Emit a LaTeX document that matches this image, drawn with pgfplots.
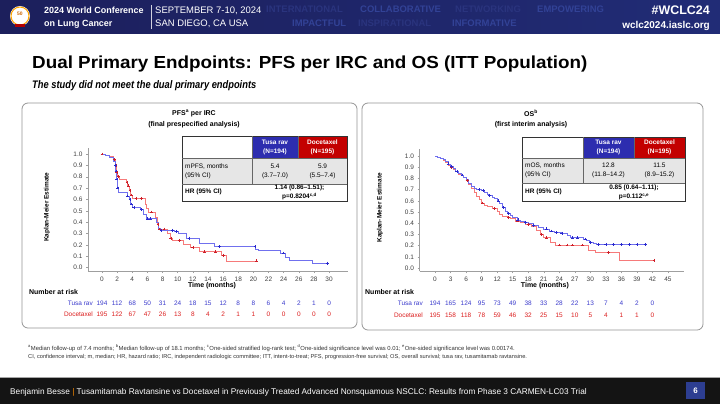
\documentclass[border=0pt]{standalone}
\usepackage{pgfplots}
\pgfplotsset{compat=1.18}
\usepackage{fontspec}
\setmainfont{Liberation Sans}

\definecolor{navyA}{RGB}{28,31,92}
\definecolor{navyB}{RGB}{33,44,118}
\definecolor{faintA}{RGB}{42,52,126}
\definecolor{faintB}{RGB}{50,66,150}
\definecolor{tusaline}{RGB}{112,112,238}
\definecolor{tusamark}{RGB}{40,40,205}
\definecolor{docline}{RGB}{246,122,122}
\definecolor{docmark}{RGB}{205,30,40}
\definecolor{tusatext}{RGB}{60,60,205}
\definecolor{doctext}{RGB}{220,30,30}
\definecolor{tusahead}{RGB}{45,45,175}
\definecolor{dochead}{RGB}{195,0,0}
\definecolor{rowgray}{RGB}{230,230,230}
\definecolor{panelgray}{RGB}{150,150,150}
\definecolor{pagebox}{RGB}{45,62,145}

\newcommand{\fs}[1]{\fontsize{#1}{#1}\selectfont}

\tikzset{
  tab/.style={font=\fontsize{6.5}{9}\selectfont, inner sep=0, align=center},
  tabb/.style={font=\fontsize{6.5}{9}\selectfont\bfseries, inner sep=0, align=center},
  faint/.style={anchor=base west, inner sep=0, font=\fs{9.5}\bfseries},
}

\pgfplotsset{
  kmaxis/.style={
    scale only axis,
    axis lines*=left,
    axis line style={gray!75, line width=0.5pt, -},
    tick align=outside,
    major tick length=2bp,
    tick style={gray!75, line width=0.4pt},
    ymin=-0.03,
    ytick={0,0.1,0.2,0.3,0.4,0.5,0.6,0.7,0.8,0.9,1.0},
    /pgf/number format/assume math mode=true,
    y tick label style={/pgf/number format/.cd, fixed, fixed zerofill, precision=1},
    ticklabel style={font=\fs{6.5}, text=black!75},
    xlabel style={font=\fs{7}\bfseries, at={(axis description cs:0.477,-0.115)}, anchor=center},
    ylabel style={font=\fs{6.5}\bfseries, at={(axis description cs:-0.158,0.52)}, anchor=center, rotate=0},
    xlabel={Time (months)},
    ylabel={Kaplan-Meier Estimate},
    clip=false,
  },
  tusa/.style={const plot, color=tusaline, line width=0.6pt},
  doce/.style={const plot, color=docline, line width=0.6pt},
  tusacens/.style={only marks, mark=+, mark size=1.4bp, color=tusamark, mark options={line width=0.5pt}},
  docecens/.style={only marks, mark=+, mark size=1.4bp, color=docmark, mark options={line width=0.5pt}},
}

\begin{document}
\begin{tikzpicture}[x=1bp,y=1bp]
\useasboundingbox (0,0) rectangle (720,404);
% page
\fill[white] (0,0) rectangle (720,404);

% ---- banner ----
\shade[left color=navyA, right color=navyB] (0,370) rectangle (720,404);
\node[faint, text=faintA] at (266,391) {INTERNATIONAL};
\node[faint, text=faintB] at (360,391) {COLLABORATIVE};
\node[faint, text=faintA] at (455,391) {NETWORKING};
\node[faint, text=faintB] at (537,391) {EMPOWERING};
\node[faint, text=faintB] at (292,378) {IMPACTFUL};
\node[faint, text=faintA] at (358,378) {INSPIRATIONAL};
\node[faint, text=faintB] at (452,378) {INFORMATIVE};
\fill[white] (20,388) circle (10);
\draw[orange!70!yellow, line width=1pt] (20,388) circle (9);
\node[text=orange!80!black] at (20,390) {\fs{5}\bfseries 50};
\fill[red!70!black] (15,377) rectangle (25,380);
\node[anchor=base west, inner sep=0, text=white] at (44,390) {\fs{9}\bfseries 2024 World Conference};
\node[anchor=base west, inner sep=0, text=white] at (44,378) {\fs{9}\bfseries on Lung Cancer};
\draw[white!80!navyA, line width=0.5pt] (151,375) -- (151,399);
\node[anchor=base west, inner sep=0, text=white] at (155,390) {\fs{9.5}SEPTEMBER 7-10, 2024};
\node[anchor=base west, inner sep=0, text=white] at (155,378) {\fs{9.5}SAN DIEGO, CA USA};
\node[anchor=base east, inner sep=0, text=white] at (710,389) {\fs{12.5}\bfseries \#WCLC24};
\node[anchor=base east, inner sep=0, text=white] at (710,376) {\fs{10}\bfseries wclc2024.iaslc.org};

% ---- title ----
\node[anchor=base west, inner sep=0] at (32,336) {\scalebox{1.08}[1]{\fs{17.5}\bfseries Dual Primary Endpoints: PFS per IRC and OS (ITT Population)}};
\node[anchor=base west, inner sep=0] at (32,316) {\scalebox{0.85}[1]{\fs{11}\bfseries\itshape The study did not meet the dual primary endpoints}};

% ---- panels ----
\draw[panelgray, line width=0.8pt, rounded corners=6] (22,76) rectangle (357,301);
\draw[panelgray, line width=0.8pt, rounded corners=6] (362,74) rectangle (703,301);

\node[inner sep=0] at (194,291) {\fs{7}\bfseries PFS\textsuperscript{a} per IRC};
\node[inner sep=0] at (194,279) {\fs{7}\bfseries (final prespecified analysis)};
\node[inner sep=0] at (531,291) {\fs{7}\bfseries OS\textsuperscript{b}};
\node[inner sep=0] at (531,279) {\fs{7}\bfseries (first interim analysis)};

% ---- PFS plot ----
\begin{axis}[kmaxis, at={(88bp,132.9bp)}, anchor=south west,
  width=260bp, height=122.8bp,
  xmin=-1.85, xmax=32.5, ymax=1.05,
  xtick={0,2,4,6,8,10,12,14,16,18,20,22,24,26,28,30}]
\addplot[doce] coordinates {(0,1.0) (0.5,0.99) (1.0,0.98) (1.5,0.95) (1.8,0.90) (1.9,0.84) (2.0,0.80) (2.3,0.78) (3.2,0.75) (3.4,0.72) (3.6,0.68) (3.8,0.64) (4.0,0.61) (5.7,0.56) (5.9,0.52) (6.1,0.49) (7.0,0.44) (7.3,0.38) (7.5,0.34) (8.6,0.30) (9.0,0.26) (9.3,0.24) (10.7,0.21) (11.6,0.18) (12.9,0.14) (15.7,0.11) (16.4,0.06) (20.4,0.06)};
\addplot[tusa] coordinates {(0,1.0) (0.5,0.99) (1.0,0.97) (1.5,0.94) (1.7,0.90) (1.8,0.85) (1.9,0.78) (2.0,0.70) (2.2,0.66) (3.3,0.63) (3.6,0.60) (3.8,0.56) (4.0,0.53) (5.0,0.51) (5.5,0.47) (5.9,0.43) (7.2,0.40) (7.4,0.35) (7.7,0.33) (9.6,0.32) (10.1,0.30) (11.2,0.26) (12.9,0.215) (14.8,0.185) (20.2,0.165) (20.6,0.15) (23.5,0.13) (24.2,0.09) (24.8,0.065) (27.8,0.04) (29.8,0.04)};
\addplot[docecens] coordinates {(0,1.0) (1.6,0.95) (1.85,0.90) (1.95,0.84) (2.1,0.80) (2.2,0.80) (3.3,0.75) (3.5,0.72) (3.7,0.68) (3.9,0.64) (4.5,0.61) (5.2,0.61) (6.5,0.49) (7.4,0.38) (7.6,0.34) (8.2,0.34) (9.1,0.26) (10.2,0.24) (12.0,0.18) (13.5,0.14) (15.0,0.14) (16.0,0.11) (20.4,0.06)};
\addplot[tusacens] coordinates {(1.75,0.90) (1.85,0.85) (1.95,0.78) (2.05,0.70) (2.1,0.70) (3.4,0.63) (3.7,0.60) (3.9,0.56) (4.2,0.53) (5.2,0.51) (6.0,0.43) (6.4,0.43) (7.8,0.33) (9.3,0.33) (9.8,0.32) (11.5,0.26) (15.5,0.185) (20.2,0.185) (24.0,0.13) (29.8,0.04)};
\end{axis}

% ---- OS plot ----
\begin{axis}[kmaxis, at={(419.5bp,132.6bp)}, anchor=south west,
  width=264bp, height=122.1bp,
  xmin=-3, xmax=48, ymax=1.06,
  xlabel style={at={(axis description cs:0.475,-0.115)}},
  ylabel style={at={(axis description cs:-0.15,0.52)}},
  xtick={0,3,6,9,12,15,18,21,24,27,30,33,36,39,42,45}]
\addplot[doce] coordinates {(0,1.0) (0.5,0.99) (1,0.98) (1.5,0.96) (2,0.94) (2.5,0.92) (3,0.90) (3.5,0.88) (4,0.86) (4.5,0.84) (5,0.83) (5.5,0.81) (6,0.78) (6.5,0.75) (7,0.71) (7.5,0.68) (8,0.64) (8.5,0.61) (9,0.58) (9.5,0.56) (10,0.55) (11,0.53) (12,0.51) (12.5,0.48) (13,0.46) (14,0.45) (14.5,0.44) (15.5,0.42) (16.5,0.41) (17.5,0.39) (18.5,0.37) (19.5,0.34) (20.3,0.30) (21,0.27) (22.2,0.23) (23.2,0.205) (29.6,0.16) (30.9,0.137) (35.6,0.069) (42.3,0.069)};
\addplot[tusa] coordinates {(0,1.0) (0.5,0.99) (1,0.98) (1.5,0.97) (2,0.95) (2.5,0.93) (3,0.91) (3.5,0.89) (4,0.86) (4.5,0.85) (5,0.83) (5.5,0.81) (6,0.79) (6.5,0.76) (7,0.73) (7.5,0.71) (8,0.70) (9,0.69) (9.5,0.68) (10,0.66) (10.5,0.65) (11,0.63) (11.5,0.62) (12,0.60) (12.5,0.58) (13,0.54) (13.5,0.51) (14,0.49) (14.5,0.47) (15,0.45) (15.8,0.43) (16.5,0.42) (17.2,0.41) (18,0.40) (19,0.38) (20,0.36) (21,0.35) (22,0.33) (23,0.32) (24.5,0.31) (25.5,0.29) (26.2,0.27) (28.6,0.26) (29.3,0.25) (29.8,0.23) (30.5,0.22) (31.2,0.21) (40.7,0.21)};
\addplot[docecens] coordinates {(3.2,0.90) (4.2,0.86) (6.2,0.78) (9.2,0.58) (11.5,0.53) (14.2,0.45) (16,0.42) (18,0.39) (20.5,0.30) (21.5,0.27) (24,0.205) (25.5,0.205) (26.5,0.205) (28.5,0.205) (33.5,0.137) (42.3,0.069)};
\addplot[tusacens] coordinates {(2.5,0.93) (3.2,0.91) (4.2,0.86) (5.2,0.83) (8.5,0.70) (9.3,0.69) (10.5,0.65) (12.2,0.60) (13.2,0.54) (14.2,0.49) (16.0,0.43) (17.5,0.41) (19.0,0.38) (21.5,0.35) (22.5,0.33) (23.5,0.32) (24.5,0.31) (26.5,0.27) (27.5,0.27) (29.0,0.26) (30.0,0.23) (31.5,0.21) (33,0.21) (34.5,0.21) (36,0.21) (37.5,0.21) (39,0.21) (40.7,0.21)};
\end{axis}

% ---- tables ----
% left
\fill[rowgray] (182,220) rectangle (347,246);
\fill[tusahead] (252,246) rectangle (298,268);
\fill[dochead] (298,246) rectangle (347,268);
\draw[black!80, line width=0.8pt] (182,203) rectangle (347,268);
\draw[black!60, line width=0.4pt] (182,246) -- (347,246) (182,220) -- (347,220) (252,220) -- (252,268) (298,246) -- (298,268);
\node[tabb, text=white] at (275,257) {Tusa rav\\(N=194)};
\node[tabb, text=white] at (322.5,257) {Docetaxel\\(N=195)};
\node[tab, align=left, anchor=west] at (185,233) {mPFS, months\\(95\% CI)};
\node[tab] at (275,233) {5.4\\(3.7–7.0)};
\node[tab] at (322.5,233) {5.9\\(5.5–7.4)};
\node[tabb, anchor=west] at (185,212) {HR (95\% CI)};
\node[tabb] at (299.5,211.5) {1.14 (0.86–1.51);\\p=0.8204\textsuperscript{c,d}};
% right
\fill[rowgray] (522,221) rectangle (685,246);
\fill[tusahead] (583,246) rectangle (634,267);
\fill[dochead] (634,246) rectangle (685,267);
\draw[black!80, line width=0.8pt] (522,203) rectangle (685,267);
\draw[black!60, line width=0.4pt] (522,246) -- (685,246) (522,221) -- (685,221) (583,221) -- (583,267) (634,246) -- (634,267);
\node[tabb, text=white] at (608.5,256.5) {Tusa rav\\(N=194)};
\node[tabb, text=white] at (659.5,256.5) {Docetaxel\\(N=195)};
\node[tab, align=left, anchor=west] at (525,233.5) {mOS, months\\(95\% CI)};
\node[tab] at (608.5,233.5) {12.8\\(11.8–14.2)};
\node[tab] at (659.5,233.5) {11.5\\(8.9–15.2)};
\node[tabb, anchor=west] at (525,212) {HR (95\% CI)};
\node[tabb] at (634,211.5) {0.85 (0.64–1.11);\\p=0.112\textsuperscript{c,e}};

% ---- number at risk ----
\node[anchor=base west, inner sep=0] at (29,110) {\fs{7}\bfseries Number at risk};
\node[anchor=base east, inner sep=0, text=tusatext] at (93,99) {\fs{6.5}Tusa rav};
\node[anchor=base east, inner sep=0, text=doctext] at (93,88) {\fs{6.5}Docetaxel};
\foreach \n [count=\i from 0] in {194,112,68,50,31,24,18,15,12,8,8,6,4,2,1,0}
  \node[anchor=base, inner sep=0, text=tusatext] at ({102+\i*15.14},99) {\fs{6.5}\n};
\foreach \n [count=\i from 0] in {195,122,67,47,26,13,8,4,2,1,1,0,0,0,0,0}
  \node[anchor=base, inner sep=0, text=doctext] at ({102+\i*15.14},88) {\fs{6.5}\n};

\node[anchor=base west, inner sep=0] at (365,110) {\fs{7}\bfseries Number at risk};
\node[anchor=base east, inner sep=0, text=tusatext] at (423,99) {\fs{6.5}Tusa rav};
\node[anchor=base east, inner sep=0, text=doctext] at (423,87) {\fs{6.5}Docetaxel};
\foreach \n [count=\i from 0] in {194,165,124,95,73,49,38,33,28,22,13,7,4,2,0}
  \node[anchor=base, inner sep=0, text=tusatext] at ({435+\i*15.53},99) {\fs{6.5}\n};
\foreach \n [count=\i from 0] in {195,158,118,78,59,46,32,25,15,10,5,4,1,1,0}
  \node[anchor=base, inner sep=0, text=doctext] at ({435+\i*15.53},87) {\fs{6.5}\n};

% ---- footnotes ----
\node[anchor=base west, inner sep=0, text=black!80] at (28,54) {\fs{5.9}\textsuperscript{a}Median follow-up of 7.4 months; \textsuperscript{b}Median follow-up of 18.1 months; \textsuperscript{c}One-sided stratified log-rank test; \textsuperscript{d}One-sided significance level was 0.01; \textsuperscript{e}One-sided significance level was 0.00174.};
\node[anchor=base west, inner sep=0, text=black!80] at (28,46) {\fs{5.7}CI, confidence interval; m, median; HR, hazard ratio; IRC, independent radiologic committee; ITT, intent-to-treat; PFS, progression-free survival; OS, overall survival; tusa rav, tusamitamab ravtansine.};

% ---- footer ----
\fill[black!92] (0,0) rectangle (720,27);
\draw[gray!70, line width=0.8pt] (0,27) -- (720,27);
\node[anchor=base west, inner sep=0, text=white] at (10,10) {\fs{8.3}Benjamin Besse {\color{orange!90!yellow}|} Tusamitamab Ravtansine vs Docetaxel in Previously Treated Advanced Nonsquamous NSCLC: Results from Phase 3 CARMEN-LC03 Trial};
\fill[pagebox] (686,5) rectangle (705,22);
\node[text=white] at (695.5,13.5) {\fs{8}\bfseries 6};
\end{tikzpicture}
\end{document}
